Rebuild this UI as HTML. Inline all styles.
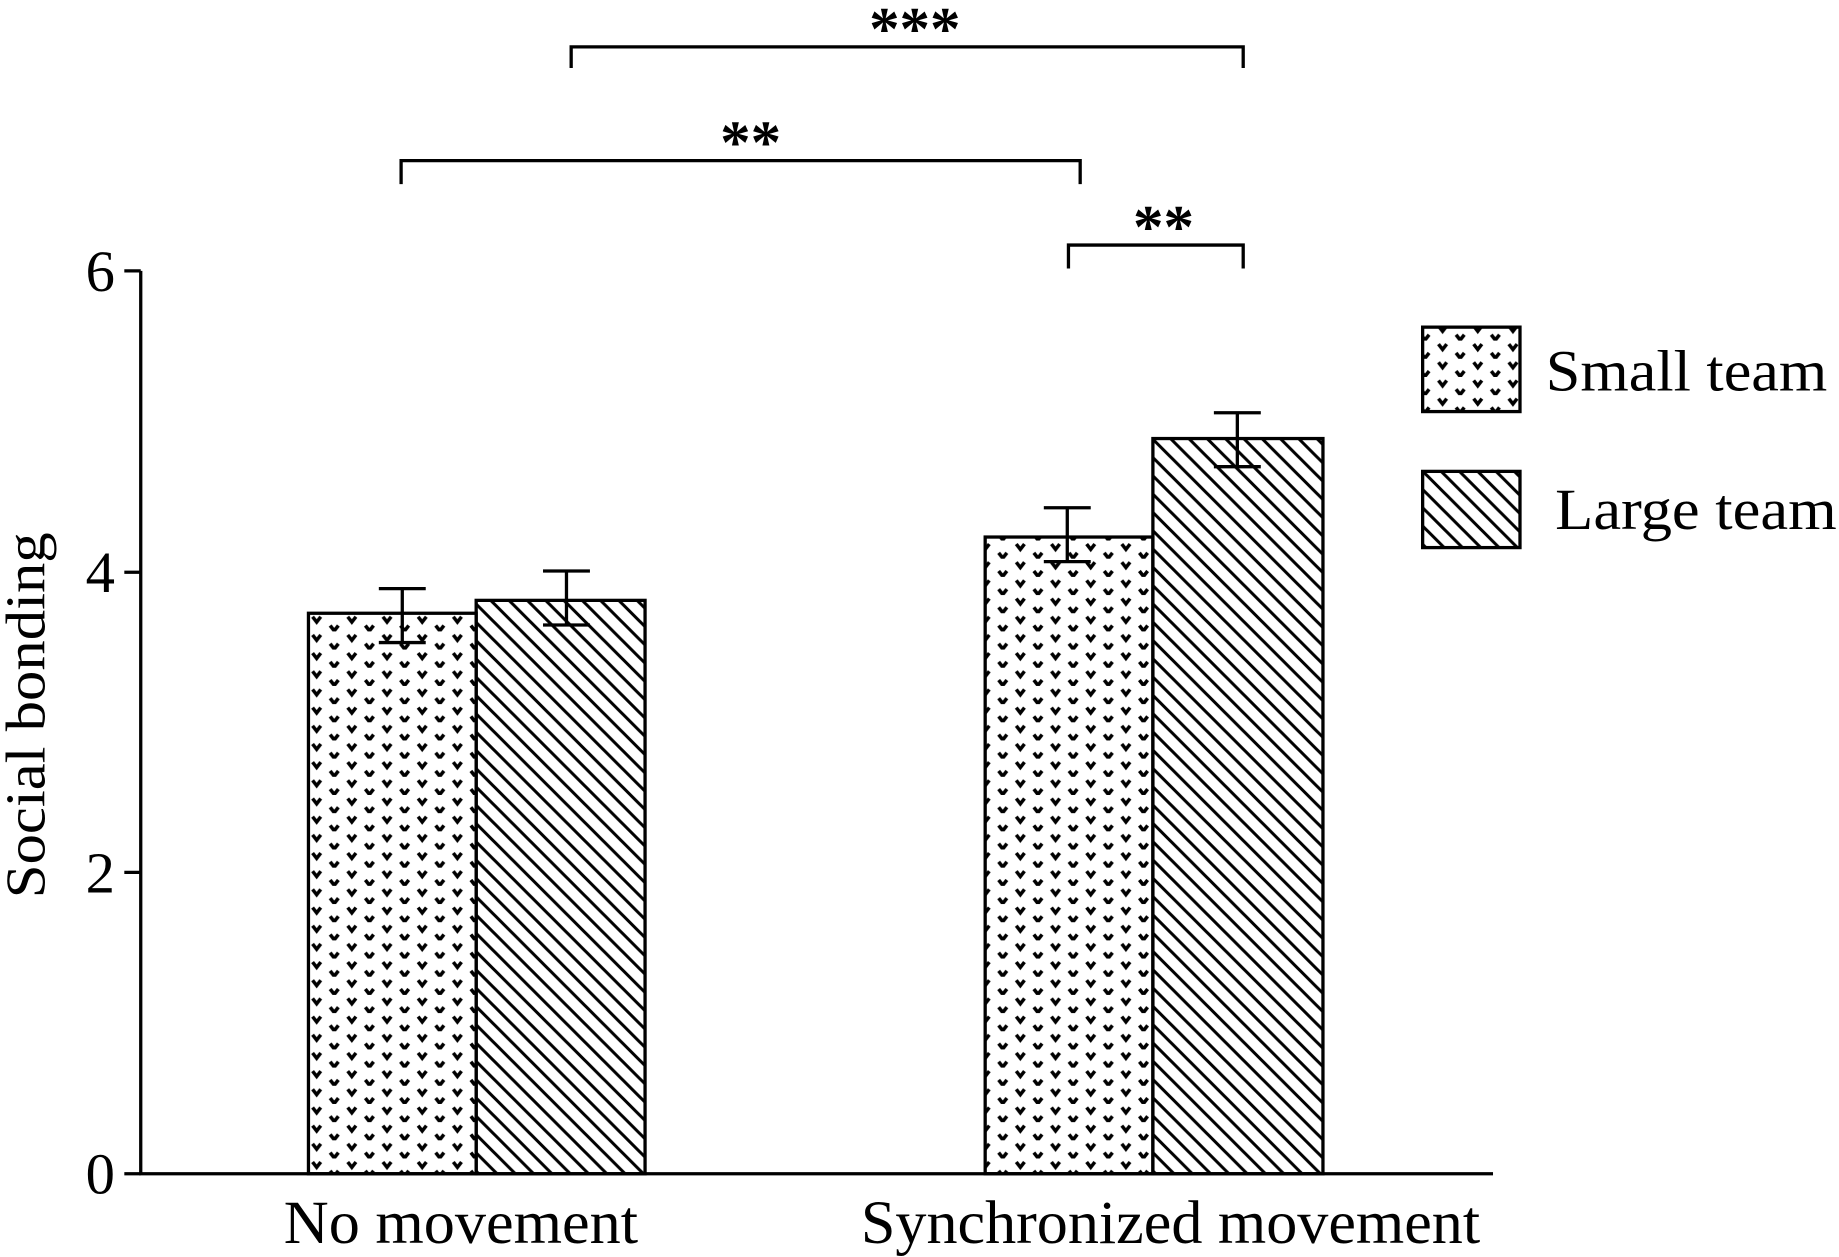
<!DOCTYPE html>
<html><head><meta charset="utf-8"><style>html,body{margin:0;padding:0;background:#fff}svg{display:block}</style></head>
<body>
<svg width="1839" height="1257" viewBox="0 0 1568 1072" preserveAspectRatio="none" xmlns="http://www.w3.org/2000/svg" font-family="'Liberation Serif', serif">
<defs>
<pattern id="dots" patternUnits="userSpaceOnUse" width="30" height="15.5" x="263" y="523">
<path d="M3.5 3 L7 7.5 L10.5 3" fill="none" stroke="#000" stroke-width="3"/>
<path d="M18.5 10.5 L22 15 L25.5 10.5" fill="none" stroke="#000" stroke-width="3"/>
</pattern>
<pattern id="hatch" patternUnits="userSpaceOnUse" width="15.6" height="15.6">
<path d="M-4 -4 L19.6 19.6 M-4 11.6 L4 19.6 M11.6 -4 L19.6 4" stroke="#000" stroke-width="2.6"/>
</pattern>
</defs>
<g stroke="#000" stroke-width="2.8" fill="none">
<path d="M120 231 V1001 H1273"/>
<path d="M106 231 H120 M106 488 H120 M106 744 H120 M106 1001 H120"/>
</g>
<g stroke="#000" stroke-width="2.8">
<rect x="263" y="523" width="143" height="478" fill="url(#dots)"/>
<rect x="406" y="512" width="144" height="489" fill="url(#hatch)"/>
<rect x="840" y="458" width="143" height="543" fill="url(#dots)"/>
<rect x="983" y="374" width="145" height="627" fill="url(#hatch)"/>
</g>
<g stroke="#000" stroke-width="2.8" fill="none">
<path d="M343 502 V548 M323 502 H363 M323 548 H363"/>
<path d="M483 487 V533 M463 487 H503 M463 533 H503"/>
<path d="M910 433 V479 M890 433 H930 M890 479 H930"/>
<path d="M1055 352 V398 M1035 352 H1075 M1035 398 H1075"/>
<path d="M487 58 V40 H1060 V58"/>
<path d="M342 157 V137 H921 V157"/>
<path d="M911 229 V209 H1060 V229"/>
</g>
<g font-size="52" font-weight="bold" text-anchor="middle" fill="#000">
<text x="780" y="42">***</text>
<text x="640" y="139">**</text>
<text x="992" y="211">**</text>
</g>
<g font-size="50" text-anchor="end" fill="#000">
<text x="98" y="248">6</text>
<text x="98" y="505">4</text>
<text x="98" y="761">2</text>
<text x="98" y="1018">0</text>
</g>
<text transform="translate(38,610) rotate(-90)" font-size="48" text-anchor="middle" textLength="312" lengthAdjust="spacingAndGlyphs">Social bonding</text>
<text x="393" y="1060" font-size="52" text-anchor="middle" textLength="302" lengthAdjust="spacingAndGlyphs">No movement</text>
<text x="998" y="1060" font-size="52" text-anchor="middle" textLength="528" lengthAdjust="spacingAndGlyphs">Synchronized movement</text>
<g stroke="#000" stroke-width="2.8">
<rect x="1213" y="279" width="83" height="72" fill="url(#dots)"/>
<rect x="1213" y="402" width="83" height="65" fill="url(#hatch)"/>
</g>
<text x="1318" y="333" font-size="50" textLength="240" lengthAdjust="spacingAndGlyphs">Small team</text>
<text x="1326" y="451" font-size="50" textLength="240" lengthAdjust="spacingAndGlyphs">Large team</text>
</svg>
</body></html>
